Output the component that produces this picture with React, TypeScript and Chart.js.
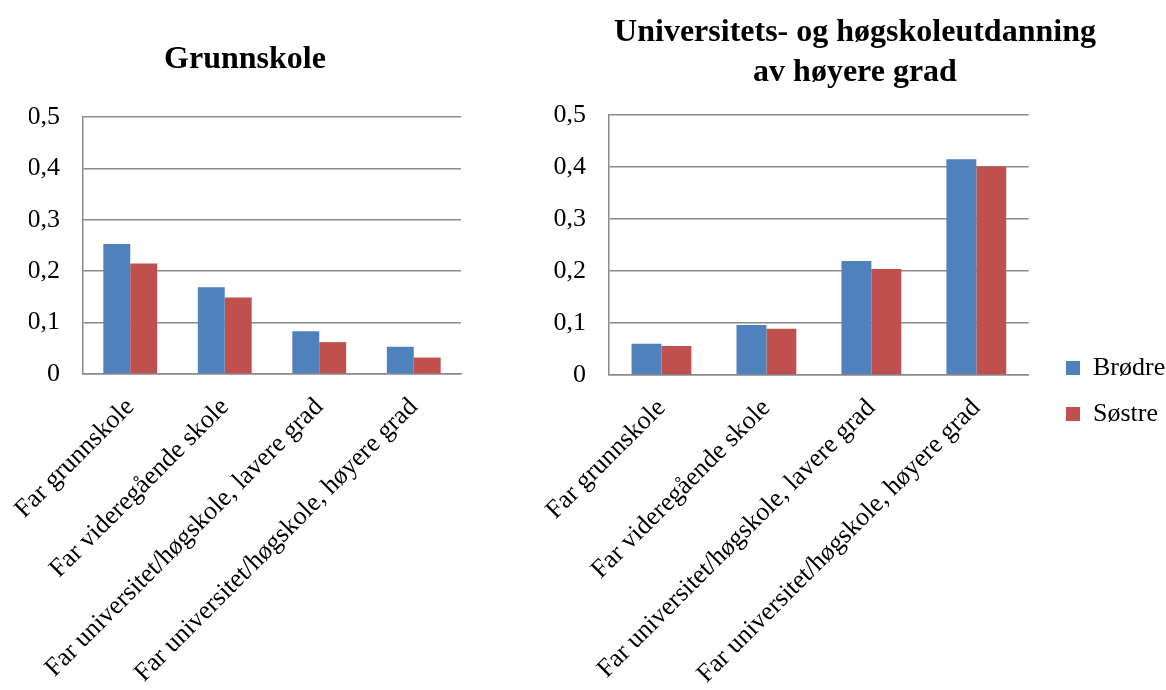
import React, { useEffect, useRef } from 'react';
import { Chart, registerables } from 'chart.js';

Chart.register(...registerables);

// Categories along the x axis (father's education)
const categories = [
  'Far grunnskole',
  'Far videregående skole',
  'Far universitet/høgskole, lavere grad',
  'Far universitet/høgskole, høyere grad',
];

// Series names
const seriesNames = ['Brødre', 'Søstre'];

// Panel 1: Grunnskole
const grunnskoleBrodre = [0.253, 0.169, 0.083, 0.053];
const grunnskoleSostre = [0.215, 0.149, 0.062, 0.032];

// Panel 2: Universitets- og høgskoleutdanning av høyere grad
const hoyereBrodre = [0.06, 0.096, 0.219, 0.415];
const hoyereSostre = [0.056, 0.089, 0.204, 0.401];

// Y axis tick labels (Norwegian decimal comma)
const yTickLabels = ['0', '0,1', '0,2', '0,3', '0,4', '0,5'];

const titleGrunnskole = 'Grunnskole';
const titleHoyere = ['Universitets- og høgskoleutdanning', 'av høyere grad'];

const seriesColors = ['#4F81BD', '#C0504D'];
const gridColor = '#8a8a8a';
const fontFamily = "'Liberation Serif', 'Times New Roman', serif";

type PanelSpec = {
  title: string | string[];
  brodre: number[];
  sostre: number[];
  width: number;
  height: number;
  yWidth: number;
  xHeight: number;
  padLeft: number;
  padRight: number;
  titlePadTop: number;
  titlePadBottom: number;
  titleLineHeight: number;
  legend: boolean;
  legendLeft?: number;
  legendTop?: number;
};

// Moves the legend box to a fixed spot beside the plot area
const legendPlacer = {
  id: 'legendPlacer',
  afterLayout(chart: any, _args: any, opts: any) {
    const lg = chart.legend;
    if (!lg || !lg.options.display || opts.left == null) return;
    const w = lg.width;
    const h = lg.height;
    lg.left = opts.left;
    lg.right = opts.left + w;
    lg.top = opts.top;
    lg.bottom = opts.top + h;
  },
};

function Panel({ spec, left }: { spec: PanelSpec; left: number }) {
  const ref = useRef<HTMLCanvasElement | null>(null);

  useEffect(() => {
    if (!ref.current) return;
    const chart = new Chart(ref.current, {
      type: 'bar',
      data: {
        labels: categories,
        datasets: [
          {
            label: seriesNames[0],
            data: spec.brodre,
            backgroundColor: seriesColors[0],
            borderWidth: 0,
            barPercentage: 1,
            categoryPercentage: 0.57,
          },
          {
            label: seriesNames[1],
            data: spec.sostre,
            backgroundColor: seriesColors[1],
            borderWidth: 0,
            barPercentage: 1,
            categoryPercentage: 0.57,
          },
        ],
      },
      options: {
        responsive: false,
        animation: false,
        layout: { padding: { left: spec.padLeft, right: spec.padRight, top: 0, bottom: 0 } },
        plugins: {
          tooltip: { enabled: false },
          title: {
            display: true,
            text: spec.title,
            color: '#000',
            font: { family: fontFamily, size: 32, weight: 'bold', lineHeight: spec.titleLineHeight },
            padding: { top: spec.titlePadTop, bottom: spec.titlePadBottom },
          },
          legend: {
            display: spec.legend,
            position: 'right',
            align: 'start',
            labels: {
              color: '#000',
              font: { family: fontFamily, size: 26 },
              boxWidth: 14,
              boxHeight: 14,
              padding: 20,
            },
          },
          legendPlacer: { left: spec.legendLeft, top: spec.legendTop },
        } as any,
        scales: {
          x: {
            grid: { display: false, drawTicks: false },
            border: { display: true, color: gridColor, width: 1.5 },
            ticks: {
              color: '#000',
              font: { family: fontFamily, size: 26 },
              minRotation: 45,
              maxRotation: 45,
              autoSkip: false,
              padding: 18,
            },
            afterFit: (scale: any) => {
              // fixed axis band; rotated labels may overhang the y axis column
              scale.height = spec.xHeight;
              scale.paddingLeft = 0;
              scale.paddingRight = 0;
            },
          },
          y: {
            min: 0,
            max: 0.5,
            grid: { color: gridColor, lineWidth: 1.5, drawTicks: false },
            border: { display: true, color: gridColor, width: 1.5 },
            ticks: {
              stepSize: 0.1,
              color: '#000',
              font: { family: fontFamily, size: 26 },
              padding: 23,
              callback: (_v: any, i: number) => yTickLabels[i],
            },
            afterFit: (scale: any) => {
              scale.width = spec.yWidth;
            },
          },
        },
      },
      plugins: [legendPlacer],
    });
    return () => chart.destroy();
  }, [spec]);

  return (
    <canvas
      ref={ref}
      width={spec.width}
      height={spec.height}
      style={{ position: 'absolute', left, top: 0, width: spec.width, height: spec.height }}
    />
  );
}

const leftSpec: PanelSpec = {
  title: titleGrunnskole,
  brodre: grunnskoleBrodre,
  sostre: grunnskoleSostre,
  width: 490,
  height: 690,
  yWidth: 54,
  xHeight: 316,
  padLeft: 29,
  padRight: 29,
  titlePadTop: 41,
  titlePadBottom: 37.6,
  titleLineHeight: 1.2,
  legend: false,
};

const rightSpec: PanelSpec = {
  title: titleHoyere,
  brodre: hoyereBrodre,
  sostre: hoyereSostre,
  width: 622,
  height: 690,
  yWidth: 57,
  xHeight: 315,
  padLeft: 8,
  padRight: 8,
  titlePadTop: 13,
  titlePadBottom: 22,
  titleLineHeight: 1.25,
  legend: true,
  legendLeft: 502,
  legendTop: 335,
};

export default function App() {
  return (
    <div style={{ position: 'absolute', left: 0, top: 0, width: 1166, height: 690, background: '#fff' }}>
      <Panel spec={leftSpec} left={0} />
      <Panel spec={rightSpec} left={544} />
    </div>
  );
}
